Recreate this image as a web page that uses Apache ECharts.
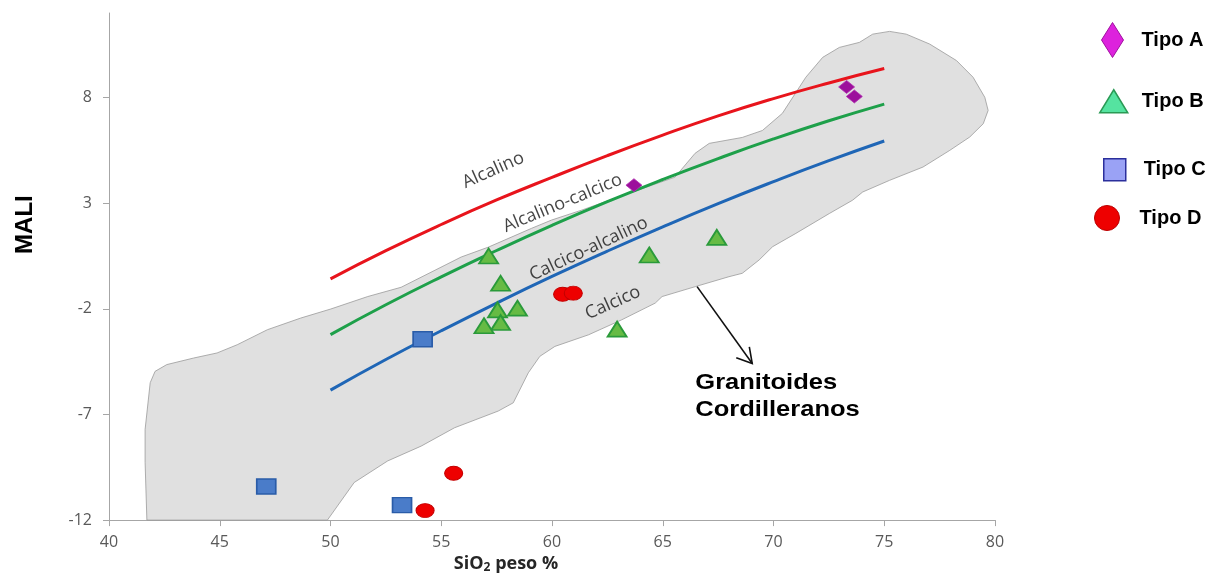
<!DOCTYPE html>
<html><head><meta charset="utf-8">
<script src="https://cdn.jsdelivr.net/npm/echarts@6/dist/echarts.min.js"></script>
<style>html,body{margin:0;padding:0;background:#fff;}#chart{width:1225px;height:579px;}</style>
</head><body><div id="chart"></div>
<script>
// ---- data ----
const xTicks = [40, 45, 50, 55, 60, 65, 70, 75, 80];
const yTicks = [-12, -7, -2, 3, 8];

// boundary curves (SiO2 vs MALI)
const curveSiO2 = [50, 52.5, 55, 57.5, 60, 62.5, 65, 67.5, 70, 72.5, 75];
const alcalinoMALI = [-0.58, 0.75, 1.99, 3.15, 4.22, 5.25, 6.22, 7.13, 7.95, 8.69, 9.37];
const alcalinoCalcicoMALI = [-3.22, -1.81, -0.49, 0.76, 1.95, 3.07, 4.12, 5.11, 6.04, 6.9, 7.69];
const calcicoAlcalinoMALI = [-5.85, -4.4, -3.04, -1.73, -0.47, 0.73, 1.88, 2.98, 4.02, 5.01, 5.94];

// samples
const tipoA_SiO2 = [63.7, 73.3, 73.65];
const tipoA_MALI = [3.85, 8.5, 8.05];
const tipoB_SiO2 = [57.14, 57.68, 57.54, 58.44, 57.68, 56.93, 64.39, 67.44, 62.94];
const tipoB_MALI = [0.5, -0.79, -2.05, -1.97, -2.65, -2.8, 0.55, 1.38, -2.96];
const tipoC_SiO2 = [54.16, 47.1, 53.23];
const tipoC_MALI = [-3.44, -10.41, -11.29];
const tipoD_SiO2 = [60.48, 60.96, 55.56, 54.27];
const tipoD_MALI = [-1.31, -1.26, -9.78, -11.55];

// Granitoides Cordilleranos field outline
const fieldSiO2 = [41.71, 41.63, 41.63, 41.86, 42.08, 42.61, 43.82, 44.88, 45.79, 47.15, 48.65, 50.01, 51.68, 53.19, 55.9, 57.13, 59.08, 59.98, 61.34, 63.47, 65.55, 66.46, 67.1, 68.59, 69.5, 70.4, 71.46, 72.22, 72.97, 73.88, 74.48, 75.24, 75.99, 77.05, 78.26, 79.01, 79.54, 79.69, 79.47, 78.86, 77.96, 76.75, 75.24, 74.03, 73.57, 72.52, 71.01, 69.96, 69.35, 68.59, 67.99, 66.47, 64.97, 64.66, 63.15, 61.65, 60.13, 59.45, 58.93, 58.25, 57.57, 55.6, 54.09, 52.58, 51.07, 49.86];
const fieldMALI = [-12, -9.26, -7.71, -5.5, -4.96, -4.64, -4.33, -4.09, -3.7, -2.99, -2.44, -2.01, -1.42, -0.98, 0.45, 0.92, 1.81, 2.2, 2.67, 3.47, 4.23, 5.36, 5.83, 6.11, 6.44, 7.25, 8.96, 9.9, 10.37, 10.61, 11.0, 11.13, 11.0, 10.53, 9.75, 8.96, 8.01, 7.39, 6.76, 6.13, 5.5, 4.71, 4.08, 3.53, 3.14, 2.51, 1.57, 0.94, 0.31, -0.32, -0.48, -0.95, -1.42, -1.73, -2.52, -3.23, -3.78, -4.25, -5.03, -6.45, -6.84, -7.63, -8.5, -9.2, -10.22, -12];

// curve labels
const curveLabelNames = ['Alcalino', 'Alcalino-calcico', 'Calcico-alcalino', 'Calcico'];
const curveLabelSiO2 = [57.35, 60.48, 61.66, 62.75];
const curveLabelMALI = [4.56, 3.0, 0.83, -1.72];
const curveLabelAngle = [24, 22.5, 25, 24];

// annotation arrow
const arrowFrom = [66.55, -0.95];
const arrowTo = [69.04, -4.59];
const fieldNameAnchor = [66.47, -4.86];
const fieldName = 'Granitoides\nCordilleranos';

// ---- build ----
const zip = (xs, ys) => xs.map((x, i) => [x, ys[i]]);
const chart = echarts.init(document.getElementById('chart'), null, {renderer: 'canvas'});

function oneLegend(name, icon, w, h, left, top, gap, style) {
  return {
    data: [{name: name, icon: icon, itemStyle: style}],
    left: left, top: top, itemWidth: w, itemHeight: h, padding: 0,
    selectedMode: false, orient: 'vertical',
    textStyle: {fontSize: 20, fontWeight: 'bold', color: '#000', fontFamily: '"Liberation Sans", Arial, sans-serif', padding: [0, 0, 0, gap]}
  };
}

const lineSeries = (name, ys, color) => ({
  type: 'line', name: name, data: zip(curveSiO2, ys), smooth: true, showSymbol: false, symbol: 'none',
  lineStyle: {color: color, width: 3}, silent: true, z: 3
});

const option = {
  backgroundColor: '#fff',
  animation: false,
  grid: {left: 109, right: 230, top: 13, bottom: 56, containLabel: false},
  xAxis: {
    type: 'value', min: 40, max: 80, interval: 5,
    name: '{a|SiO}{b|2}{a| peso %}', nameLocation: 'middle', nameGap: 33,
    nameTextStyle: {
      padding: [0, 92, 0, 0],
      rich: {
        a: {fontSize: 18, fontWeight: 'bold', color: '#262626', fontFamily: '"Open Sans", sans-serif'},
        b: {fontSize: 12, fontWeight: 'bold', color: '#262626', fontFamily: '"Open Sans", sans-serif', verticalAlign: 'bottom', padding: [8, 0, 0, 0]}
      }
    },
    axisLine: {show: true, onZero: false, lineStyle: {color: '#a6a6a6', width: 1}},
    axisTick: {show: true, length: 6, lineStyle: {color: '#a6a6a6'}},
    axisLabel: {margin: 14, fontSize: 16, color: '#595959', fontFamily: '"Open Sans", sans-serif'},
    splitLine: {show: false}
  },
  yAxis: {
    type: 'value', min: -12, max: 12, interval: 5,
    name: 'MALI', nameLocation: 'middle', nameGap: 72, nameRotate: 90,
    nameTextStyle: {fontSize: 24, fontWeight: 'bold', color: '#000', fontFamily: '"Liberation Sans", Arial, sans-serif', padding: [0, 0, 0, 84]},
    axisLine: {show: true, onZero: false, lineStyle: {color: '#a6a6a6', width: 1}},
    axisTick: {show: true, length: 6, lineStyle: {color: '#a6a6a6'}, customValues: yTicks},
    axisLabel: {margin: 17, fontSize: 16, color: '#595959', fontFamily: '"Open Sans", sans-serif', customValues: yTicks},
    splitLine: {show: false}
  },
  legend: [
    oneLegend('Tipo A', 'path://M11,0L22,17.5L11,35L0,17.5Z', 22, 35, 1101, 22, 13, {color: '#dd22dd', borderColor: '#a010a0', borderWidth: 1}),
    oneLegend('Tipo B', 'path://M14,0L28,23L0,23Z', 28, 23, 1099, 89, 9, {color: '#55e3a0', borderColor: '#2a9a55', borderWidth: 1.5}),
    oneLegend('Tipo C', 'path://M0,0L22,0L22,22L0,22Z', 22, 22, 1103, 158, 13, {color: '#9aa2f5', borderColor: '#2b2f9c', borderWidth: 1.5}),
    oneLegend('Tipo D', 'circle', 25, 25, 1094, 205, 15, {color: '#ee0000', borderColor: '#bb0000', borderWidth: 1})
  ],
  series: [
    {
      type: 'custom', name: 'Granitoides Cordilleranos', silent: true, z: 1,
      data: [[fieldSiO2[0], fieldMALI[0]]],
      renderItem: (params, api) => ({
        type: 'polygon',
        shape: {points: fieldSiO2.map((x, i) => api.coord([x, fieldMALI[i]]))},
        style: {fill: '#e0e0e0', stroke: '#9a9a9a', lineWidth: 0.8}
      })
    },
    lineSeries('Alcalino', alcalinoMALI, '#e8141c'),
    lineSeries('Alcalino-calcico', alcalinoCalcicoMALI, '#1ea04a'),
    lineSeries('Calcico-alcalino', calcicoAlcalinoMALI, '#1f66b6'),
    {
      type: 'scatter', name: 'curve labels', silent: true, z: 4, symbolSize: 0,
      data: curveLabelNames.map((n, i) => ({value: [curveLabelSiO2[i], curveLabelMALI[i]], name: n, label: {rotate: curveLabelAngle[i]}})),
      label: {show: true, position: 'inside', formatter: p => p.name, fontSize: 18, color: '#141414', fontFamily: '"Open Sans", sans-serif', align: 'center', verticalAlign: 'middle'}
    },
    {
      type: 'custom', name: 'annotation', silent: true, z: 5,
      data: [[arrowFrom[0], arrowFrom[1]]],
      renderItem: (params, api) => {
        const a = api.coord(arrowFrom), b = api.coord(arrowTo), t = api.coord(fieldNameAnchor);
        const ang = Math.atan2(b[1] - a[1], b[0] - a[0]);
        const L = 17;
        const h1 = [b[0] - L * Math.cos(ang - 0.6), b[1] - L * Math.sin(ang - 0.6)];
        const h2 = [b[0] - L * Math.cos(ang + 0.45), b[1] - L * Math.sin(ang + 0.45)];
        return {type: 'group', children: [
          {type: 'line', shape: {x1: a[0], y1: a[1], x2: b[0], y2: b[1]}, style: {stroke: '#111', lineWidth: 1.6}},
          {type: 'polyline', shape: {points: [h1, b, h2]}, style: {stroke: '#111', lineWidth: 1.6, fill: null}},
          {type: 'text', x: t[0], y: t[1], scaleX: 1.16, style: {text: fieldName, font: 'bold 22px "Liberation Sans", Arial, sans-serif', fill: '#000', lineHeight: 27, align: 'left', verticalAlign: 'top'}}
        ]};
      }
    },
    {
      type: 'scatter', name: 'Tipo C', z: 6, symbol: 'rect', symbolSize: [19, 15],
      data: zip(tipoC_SiO2, tipoC_MALI),
      itemStyle: {color: '#4a7cc9', borderColor: '#2a5ca8', borderWidth: 1.5, opacity: 1}
    },
    {
      type: 'scatter', name: 'Tipo B', z: 6, symbol: 'triangle', symbolSize: [19, 15],
      data: zip(tipoB_SiO2, tipoB_MALI),
      itemStyle: {color: '#66bb44', borderColor: '#2a9a3a', borderWidth: 1.8, opacity: 1}
    },
    {
      type: 'scatter', name: 'Tipo D', z: 6, symbol: 'circle', symbolSize: [18, 14],
      data: zip(tipoD_SiO2, tipoD_MALI),
      itemStyle: {color: '#ee0000', borderColor: '#c40000', borderWidth: 1, opacity: 1}
    },
    {
      type: 'scatter', name: 'Tipo A', z: 6, symbol: 'diamond', symbolSize: [16, 13],
      data: zip(tipoA_SiO2, tipoA_MALI),
      itemStyle: {color: '#9c109c', borderColor: '#b030b0', borderWidth: 0.8, opacity: 1}
    }
  ]
};
chart.setOption(option);
</script></body></html>
